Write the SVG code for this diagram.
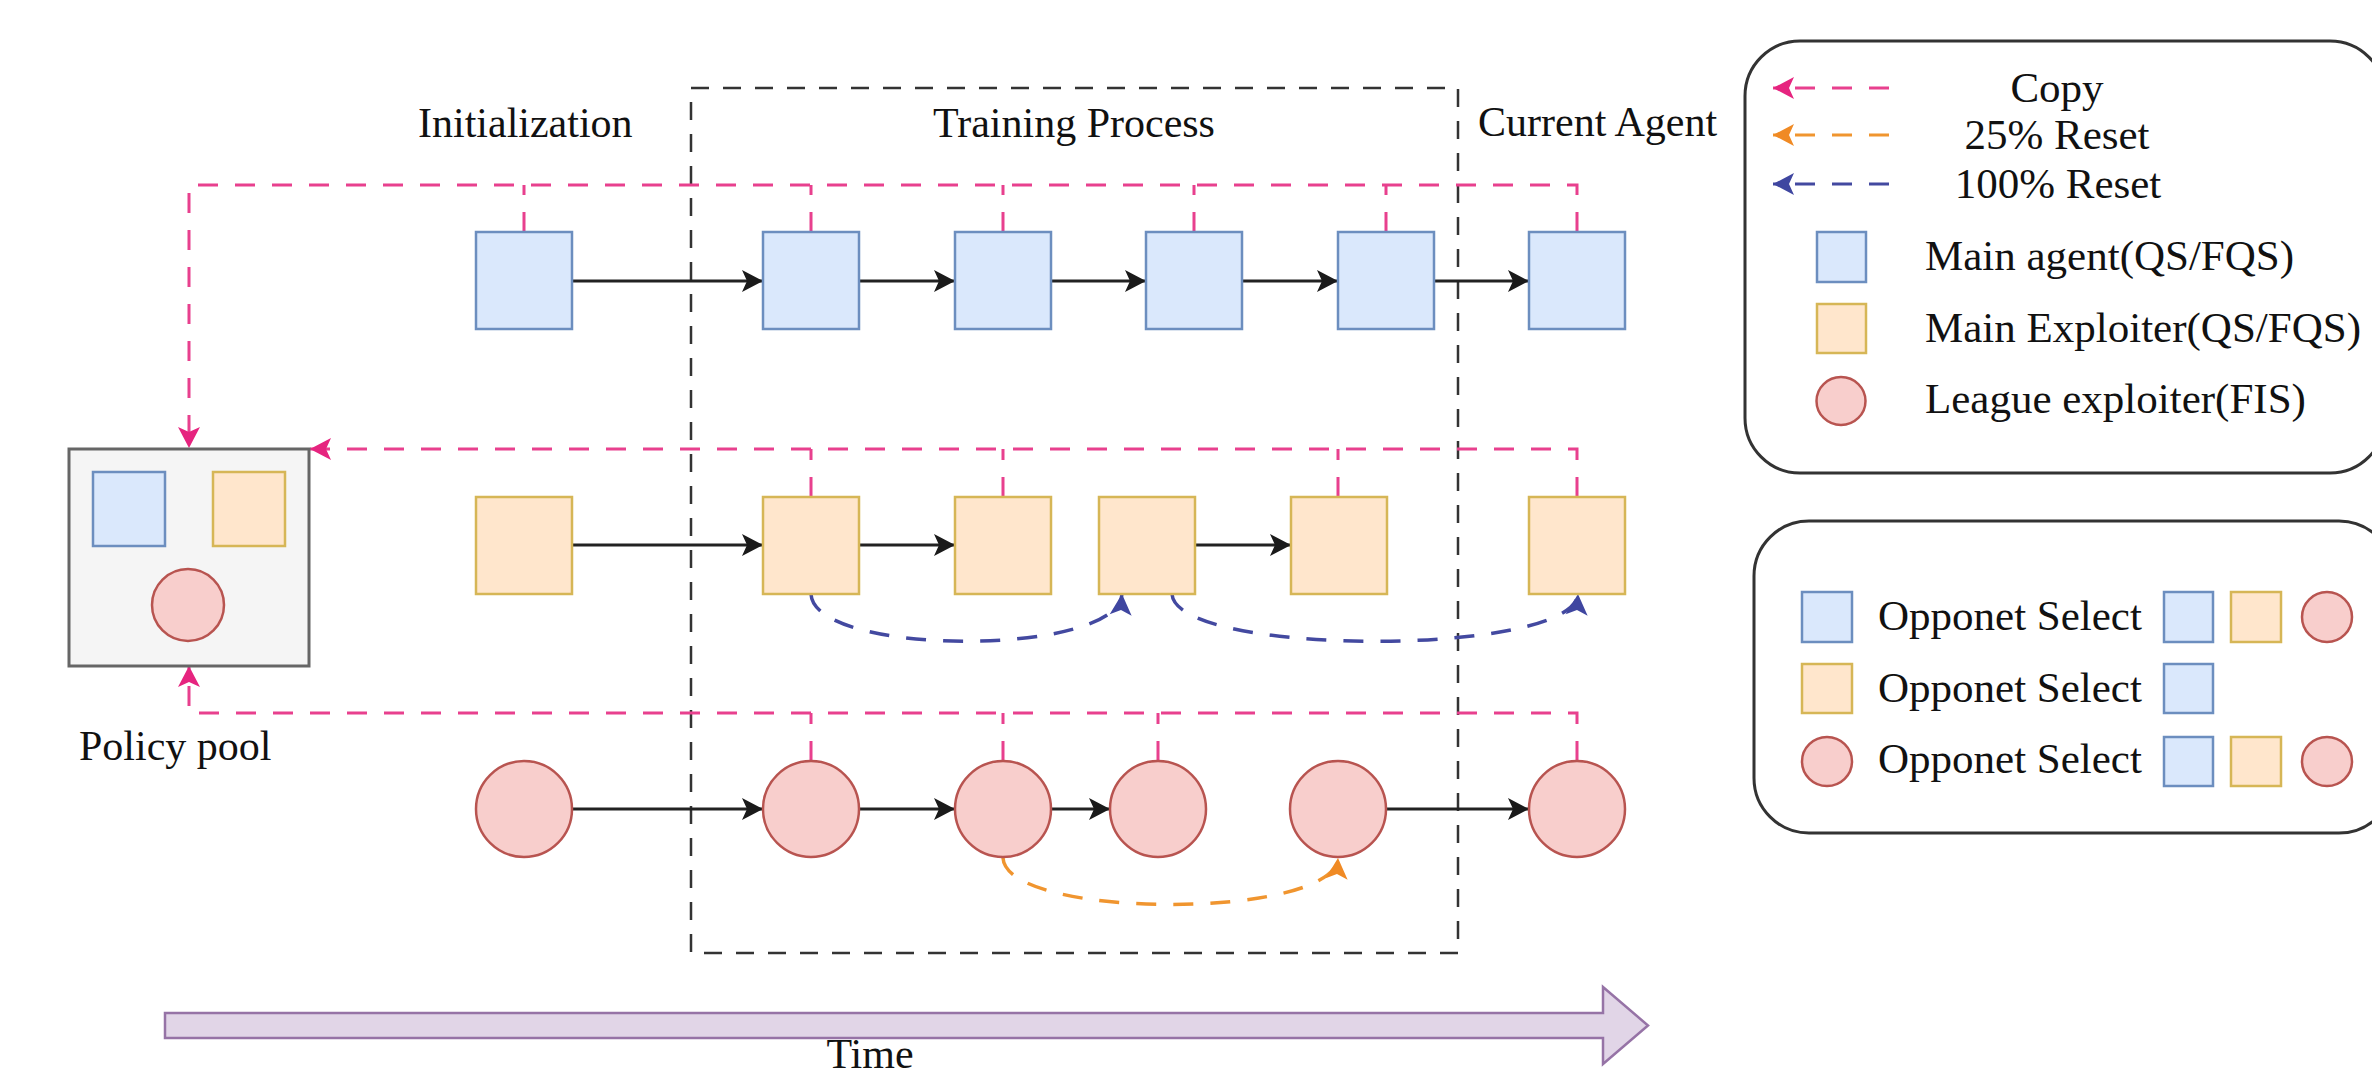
<svg xmlns="http://www.w3.org/2000/svg" width="2372" height="1073" viewBox="0 0 2372 1073">
<defs>
<style>
text{font-family:"Liberation Serif","Times New Roman",serif;fill:#111;font-size:42px}
.lg{font-size:43px}
.b{fill:#dae8fc;stroke:#6c8ebf;stroke-width:2.5}
.o{fill:#ffe6cc;stroke:#d6b656;stroke-width:2.5}
.r{fill:#f8cecc;stroke:#b85450;stroke-width:2.5}
.ar{fill:none;stroke:#222;stroke-width:3;marker-end:url(#ak)}
.pk{fill:none;stroke:#e8408e;stroke-width:3;stroke-dasharray:20 17}
.bl{fill:none;stroke:#4349a0;stroke-width:3.5;stroke-dasharray:20 17}
.or{fill:none;stroke:#f0952f;stroke-width:3.5;stroke-dasharray:20 17}
</style>
<marker id="ak" markerUnits="userSpaceOnUse" markerWidth="22" markerHeight="22" refX="21" refY="11" orient="auto" overflow="visible"><path d="M0,0 L21,11 L0,22 L5,11 Z" fill="#1a1a1a"/></marker>
<marker id="ap" markerUnits="userSpaceOnUse" markerWidth="22" markerHeight="22" refX="21" refY="11" orient="auto" overflow="visible"><path d="M0,0 L21,11 L0,22 L5,11 Z" fill="#e6247f"/></marker>
<marker id="ab" markerUnits="userSpaceOnUse" markerWidth="22" markerHeight="22" refX="21" refY="11" orient="auto" overflow="visible"><path d="M0,0 L21,11 L0,22 L5,11 Z" fill="#3f46a0"/></marker>
<marker id="ao" markerUnits="userSpaceOnUse" markerWidth="22" markerHeight="22" refX="21" refY="11" orient="auto" overflow="visible"><path d="M0,0 L21,11 L0,22 L5,11 Z" fill="#f08a24"/></marker>
</defs>
<rect width="2372" height="1073" fill="#fff"/>

<g id="training-frame">
<rect x="691" y="88" width="767" height="865" fill="none" stroke="#333" stroke-width="2.5" stroke-dasharray="18 14"/>
</g>

<g id="labels">
<text x="418" y="137">Initialization</text>
<text x="933" y="137">Training Process</text>
<text x="1478" y="136">Current Agent</text>
<text x="79" y="760">Policy pool</text>
</g>

<g id="time-arrow">
<polygon points="165,1013 1603,1013 1603,987 1648,1025.5 1603,1064 1603,1038 165,1038" fill="#e1d5e7" stroke="#9673a6" stroke-width="2.5"/>
<text x="870" y="1068" text-anchor="middle">Time</text>
</g>

<g id="connectors">
<path class="pk" d="M1577 232 V185 H189 V448" marker-end="url(#ap)"/>
<path class="pk" d="M524 232 V185"/>
<path class="pk" d="M811 232 V185"/>
<path class="pk" d="M1003 232 V185"/>
<path class="pk" d="M1194 232 V185"/>
<path class="pk" d="M1386 232 V185"/>
<path class="pk" d="M1577 497 V449 H310" marker-end="url(#ap)"/>
<path class="pk" d="M811 497 V449"/>
<path class="pk" d="M1003 497 V449"/>
<path class="pk" d="M1338 497 V449"/>
<path class="pk" d="M1577 761 V713 H189 V666" marker-end="url(#ap)"/>
<path class="pk" d="M811 761 V713"/>
<path class="pk" d="M1003 761 V713"/>
<path class="pk" d="M1158 761 V713"/>
<path class="ar" d="M572 281 H763"/>
<path class="ar" d="M859 281 H955"/>
<path class="ar" d="M1051 281 H1146"/>
<path class="ar" d="M1242 281 H1338"/>
<path class="ar" d="M1434 281 H1529"/>
<path class="ar" d="M572 545 H763"/>
<path class="ar" d="M859 545 H955"/>
<path class="ar" d="M1194 545 H1291"/>
<path class="ar" d="M572 809 H763"/>
<path class="ar" d="M859 809 H955"/>
<path class="ar" d="M1051 809 H1110"/>
<path class="ar" d="M1387 809 H1529"/>
<path class="bl" d="M811 594 C814 657 1118 657 1122 594" marker-end="url(#ab)"/>
<path class="bl" d="M1172 594 C1176 657 1574 657 1578 594" marker-end="url(#ab)"/>
<path class="or" d="M1003 858 C1007 920 1334 920 1338 858" marker-end="url(#ao)"/>
</g>

<g id="policy-pool">
<rect x="69" y="449" width="240" height="217" fill="#f5f5f5" stroke="#666" stroke-width="3"/>
<rect class="b" x="93" y="472" width="72" height="74"/>
<rect class="o" x="213" y="472" width="72" height="74"/>
<ellipse class="r" cx="188" cy="605" rx="36" ry="36"/>
</g>

<g id="main-agents">
<rect id="ma0" class="b" x="476" y="232" width="96" height="97"/>
<rect id="ma1" class="b" x="763" y="232" width="96" height="97"/>
<rect id="ma2" class="b" x="955" y="232" width="96" height="97"/>
<rect id="ma3" class="b" x="1146" y="232" width="96" height="97"/>
<rect id="ma4" class="b" x="1338" y="232" width="96" height="97"/>
<rect id="ma5" class="b" x="1529" y="232" width="96" height="97"/>
</g>

<g id="main-exploiters">
<rect id="me0" class="o" x="476" y="497" width="96" height="97"/>
<rect id="me1" class="o" x="763" y="497" width="96" height="97"/>
<rect id="me2" class="o" x="955" y="497" width="96" height="97"/>
<rect id="me3" class="o" x="1099" y="497" width="96" height="97"/>
<rect id="me4" class="o" x="1291" y="497" width="96" height="97"/>
<rect id="me5" class="o" x="1529" y="497" width="96" height="97"/>
</g>

<g id="league-exploiters">
<ellipse id="le0" class="r" cx="524" cy="809" rx="48" ry="48"/>
<ellipse id="le1" class="r" cx="811" cy="809" rx="48" ry="48"/>
<ellipse id="le2" class="r" cx="1003" cy="809" rx="48" ry="48"/>
<ellipse id="le3" class="r" cx="1158" cy="809" rx="48" ry="48"/>
<ellipse id="le4" class="r" cx="1338" cy="809" rx="48" ry="48"/>
<ellipse id="le5" class="r" cx="1577" cy="809" rx="48" ry="48"/>
</g>

<g id="legend-types">
<rect x="1745" y="41" width="640" height="432" rx="55" fill="#fff" stroke="#333" stroke-width="3"/>
<path class="pk" d="M1889 88 H1773" marker-end="url(#ap)"/>
<path class="or" style="stroke-width:3" d="M1889 135 H1773" marker-end="url(#ao)"/>
<path class="bl" style="stroke-width:3" d="M1889 184 H1773" marker-end="url(#ab)"/>
<text class="lg" x="2057" y="102" text-anchor="middle">Copy</text>
<text class="lg" x="2057" y="149" text-anchor="middle">25% Reset</text>
<text class="lg" x="2058" y="198" text-anchor="middle">100% Reset</text>
<rect class="b" x="1817" y="232" width="49" height="50"/>
<rect class="o" x="1817" y="304" width="49" height="49"/>
<ellipse class="r" cx="1841" cy="401" rx="24.5" ry="24"/>
<text class="lg" x="1925" y="270">Main agent(QS/FQS)</text>
<text class="lg" x="1925" y="342">Main Exploiter(QS/FQS)</text>
<text class="lg" x="1925" y="413">League exploiter(FIS)</text>
</g>

<g id="legend-opponents">
<rect x="1754" y="521" width="640" height="312" rx="55" fill="#fff" stroke="#333" stroke-width="3"/>
<rect class="b" x="1802" y="592" width="50" height="50"/>
<text class="lg" x="1878" y="630">Opponet Select</text>
<rect class="b" x="2164" y="592" width="49" height="50"/>
<rect class="o" x="2231" y="592" width="50" height="50"/>
<ellipse class="r" cx="2327" cy="617" rx="25" ry="25"/>
<rect class="o" x="1802" y="664" width="50" height="49"/>
<text class="lg" x="1878" y="702">Opponet Select</text>
<rect class="b" x="2164" y="664" width="49" height="49"/>
<ellipse class="r" cx="1827" cy="761.5" rx="25" ry="24.5"/>
<text class="lg" x="1878" y="773">Opponet Select</text>
<rect class="b" x="2164" y="737" width="49" height="49"/>
<rect class="o" x="2231" y="737" width="50" height="49"/>
<ellipse class="r" cx="2327" cy="761.5" rx="25" ry="24.5"/>
</g>
</svg>
